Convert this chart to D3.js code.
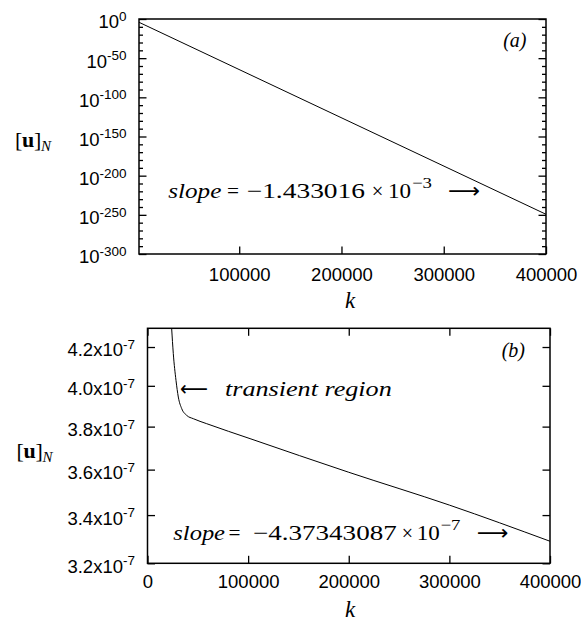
<!DOCTYPE html>
<html>
<head>
<meta charset="utf-8">
<script src="https://cdn.jsdelivr.net/npm/d3@7"></script>
<style>
  body { margin: 0; background: #fff; }
</style>
</head>
<body>
<div id="chart"></div>
<script>
// panel (a): [u]_N against k (log10 of the value)
var kA = [2000, 400000];
var expA = [-4.2, -249.3];
var yExpTicksA = [0, -50, -100, -150, -200, -250, -300];
var xTicksA = [100000, 200000, 300000, 400000];

// panel (b): transient then straight decay
var kB = [24000, 25650, 28330, 30620, 34000, 38970, 45530, 58850, 101900, 200000, 300000, 400000];
var uB = [4.30e-7, 4.165e-7, 4.027e-7, 3.944e-7, 3.887e-7, 3.854e-7, 3.838e-7, 3.814e-7, 3.743e-7, 3.588e-7, 3.443e-7, 3.29e-7];
var yTicksB = [3.2e-7, 3.4e-7, 3.6e-7, 3.8e-7, 4.0e-7, 4.2e-7];
var yLabelsB = ["3.2x10", "3.4x10", "3.6x10", "3.8x10", "4.0x10", "4.2x10"];
var xTicksB = [0, 100000, 200000, 300000, 400000];

var sans = "'Liberation Sans', Arial, sans-serif";
var serif = "'Liberation Serif', 'Times New Roman', serif";
var arrowFont = "'DejaVu Sans', sans-serif";

var svg = d3.select("#chart")
    .append("svg")
    .attr("width", 581)
    .attr("height", 621);

// little helper for the math text pieces
function piece(x, y, str, w, size, style, weight) {
    var t = svg.append("text")
        .attr("x", x)
        .attr("y", y)
        .attr("font-family", serif)
        .attr("font-size", size)
        .text(str);
    if (style) t.attr("font-style", style);
    if (weight) t.attr("font-weight", weight);
    if (w) t.attr("textLength", w).attr("lengthAdjust", "spacingAndGlyphs");
    return t;
}

function styleAxis(g) {
    g.select(".domain").remove();
    g.selectAll(".tick line").attr("stroke", "#000").attr("stroke-width", 1.3);
    g.selectAll("text").attr("font-family", sans).attr("font-size", 18.5).attr("fill", "#000");
}

function expLabels(g, mains, sups) {
    g.selectAll(".tick text").each(function (d, i) {
        var t = d3.select(this);
        t.text(null).attr("y", 3);
        t.append("tspan").text(mains[i]);
        t.append("tspan").attr("dy", -7.5).attr("font-size", 13.5).text(sups[i]);
    });
}

// ---------- panel (a) ----------
var wA = 407, hA = 235;
var gA = svg.append("g").attr("transform", "translate(139,19)");
var xA = d3.scaleLinear().domain([2000, 400000]).range([0, wA]);
var yA = d3.scaleLog().domain([1e-300, 1]).range([hA, 0]);

var majA = yExpTicksA.map(e => Math.pow(10, e));
var minA = d3.range(-290, 0, 10).filter(e => e % 50 != 0).map(e => Math.pow(10, e));

var axLA = gA.append("g").call(d3.axisLeft(yA).tickValues(majA).tickSize(-7.5).tickPadding(12.5).tickFormat(""));
styleAxis(axLA);
expLabels(axLA, yExpTicksA.map(() => "10"), yExpTicksA.map(e => String(e)));
styleAxis(gA.append("g").call(d3.axisLeft(yA).tickValues(minA).tickSize(-4).tickFormat("")));
styleAxis(gA.append("g").attr("transform", `translate(${wA},0)`)
    .call(d3.axisRight(yA).tickValues(majA).tickSize(-7.5).tickFormat("")));
styleAxis(gA.append("g").attr("transform", `translate(${wA},0)`)
    .call(d3.axisRight(yA).tickValues(minA).tickSize(-4).tickFormat("")));
styleAxis(gA.append("g").attr("transform", `translate(0,${hA})`)
    .call(d3.axisBottom(xA).tickValues(xTicksA).tickSize(-7.5).tickPadding(13.5).tickFormat(d3.format("d"))));

gA.append("path")
    .datum(kA.map((k, i) => [k, Math.pow(10, expA[i])]))
    .attr("fill", "none")
    .attr("stroke", "#000")
    .attr("stroke-width", 1)
    .attr("d", d3.line().x(d => xA(d[0])).y(d => yA(d[1])));

gA.append("rect")
    .attr("width", wA).attr("height", hA)
    .attr("fill", "none").attr("stroke", "#000").attr("stroke-width", 1.5);

// ---------- panel (b) ----------
var wB = 402.5, hB = 235;
var gB = svg.append("g").attr("transform", "translate(147.5,328.3)");
var xB = d3.scaleLinear().domain([0, 400000]).range([0, wB]);
var yB = d3.scaleLog().domain([3.2e-7, 4.3e-7]).range([hB, 0]);

var axLB = gB.append("g").call(d3.axisLeft(yB).tickValues(yTicksB).tickSize(-7.5).tickPadding(12.5).tickFormat(""));
styleAxis(axLB);
expLabels(axLB, yLabelsB, yTicksB.map(() => "-7"));
styleAxis(gB.append("g").attr("transform", `translate(${wB},0)`)
    .call(d3.axisRight(yB).tickValues(yTicksB).tickSize(-7.5).tickFormat("")));
styleAxis(gB.append("g").attr("transform", `translate(0,${hB})`)
    .call(d3.axisBottom(xB).tickValues(xTicksB).tickSize(-7.5).tickPadding(12).tickFormat(d3.format("d"))));
styleAxis(gB.append("g")
    .call(d3.axisTop(xB).tickValues(xTicksB).tickSize(-7.5).tickFormat("")));

gB.append("clipPath").attr("id", "clipB")
    .append("rect").attr("width", wB).attr("height", hB);

gB.append("path")
    .datum(kB.map((k, i) => [k, uB[i]]))
    .attr("clip-path", "url(#clipB)")
    .attr("fill", "none")
    .attr("stroke", "#000")
    .attr("stroke-width", 1)
    .attr("d", d3.line().curve(d3.curveMonotoneX).x(d => xB(d[0])).y(d => yB(d[1])));

gB.append("rect")
    .attr("width", wB).attr("height", hB)
    .attr("fill", "none").attr("stroke", "#000").attr("stroke-width", 1.5);

// ---------- labels ----------
// y labels [u]_N
[[15, 147], [16.5, 458]].forEach(function (p) {
    piece(p[0], p[1], "[", 0, 22);
    piece(p[0] + 7, p[1], "u", 0, 22, null, "bold");
    piece(p[0] + 19, p[1], "]", 0, 22);
    piece(p[0] + 26, p[1] + 4, "N", 0, 15, "italic");
});
// x labels k
piece(350, 308, "k", 0, 23, "italic").attr("text-anchor", "middle");
piece(350, 617, "k", 0, 23, "italic").attr("text-anchor", "middle");

// panel tags
piece(526.5, 47, "(a)", 0, 20, "italic").attr("text-anchor", "end");
piece(525, 357, "(b)", 0, 20, "italic").attr("text-anchor", "end");

// slope note, panel (a)
piece(168.3, 198, "slope", 53, 21, "italic");
piece(227, 198, "=", 12, 21);
piece(246.7, 198, "\u22121.433016", 118.3, 21);
piece(371.7, 198, "\u00d7", 11.6, 21);
piece(388, 198, "10", 23, 21);
piece(412, 188, "\u22123", 20, 15);
piece(448, 198, "\u27f6", 32, 21).attr("font-family", arrowFont);

// slope note, panel (b)
piece(173.3, 540, "slope", 51.7, 21, "italic");
piece(228.5, 540, "=", 12, 21);
piece(253, 540, "\u22124.37343087", 143.7, 21);
piece(401.7, 540, "\u00d7", 11.3, 21);
piece(416.7, 540, "10", 23, 21);
piece(440.5, 530, "\u22127", 20, 15);
piece(476.7, 540, "\u27f6", 31.6, 21).attr("font-family", arrowFont);

// transient note
piece(180, 396, "\u27f5", 28, 21).attr("font-family", arrowFont);
piece(225, 396, "transient region", 166.7, 21, "italic");
</script>
</body>
</html>
